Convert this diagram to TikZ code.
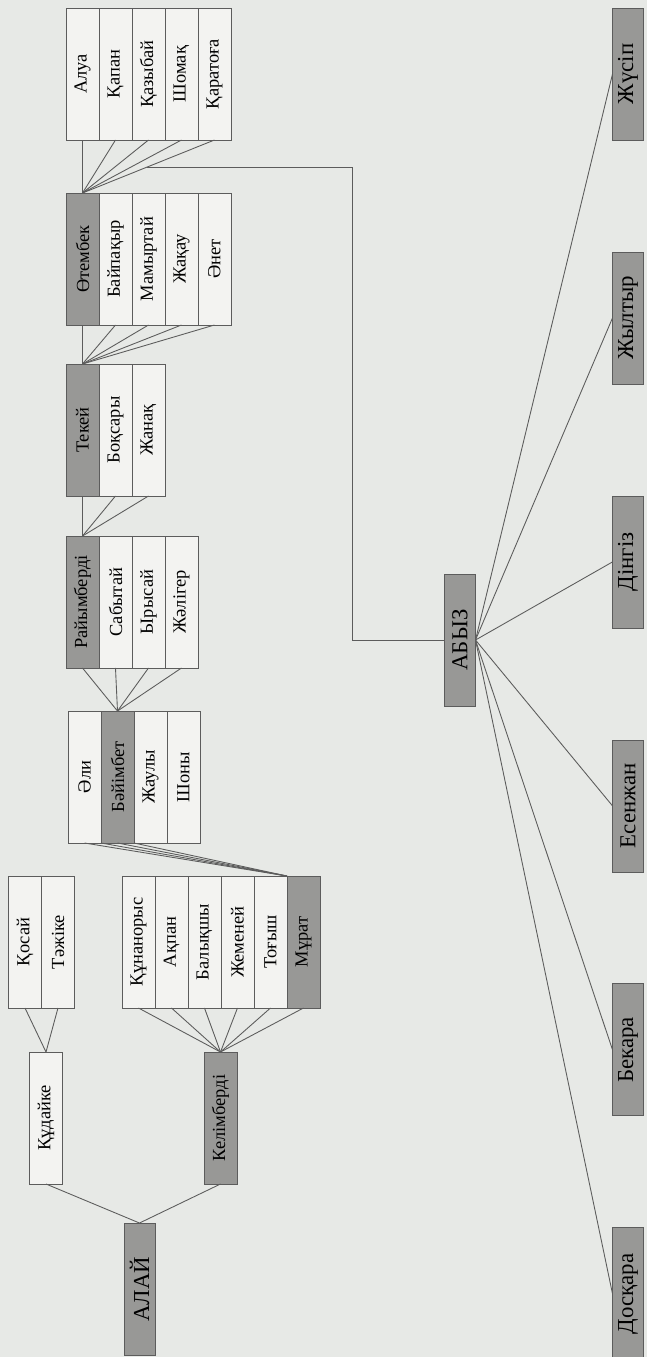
\documentclass[tikz,border=0pt]{standalone}
\usepackage{fontspec}
\setmainfont{Liberation Serif}
\usetikzlibrary{positioning,calc}
\definecolor{paper}{RGB}{231,233,230}
\definecolor{cellfill}{RGB}{243,243,241}
\definecolor{darkfill}{RGB}{152,152,150}
\definecolor{rule}{RGB}{92,92,92}
\tikzset{
	cell/.style={draw=rule, fill=cellfill, minimum width=0.66cm, minimum height=2.64cm,
		inner sep=0pt, outer sep=0pt, font=\fontsize{10.5}{12}\selectfont},
	darkcell/.style={cell, fill=darkfill},
	bigcell/.style={darkcell, minimum width=0.62cm, font=\fontsize{13}{15}\selectfont},
	link/.style={draw=rule, line width=0.5pt}
}
\newcommand{\up}[1]{\rotatebox{90}{#1}}

\begin{document}
\begin{tikzpicture}[x=0.02cm,y=-0.02cm,node distance=0pt]
	\fill[paper] (0,0) rectangle (647,1357);
	\useasboundingbox (0,0) rectangle (647,1357);
	% Otembek's sons
	\node[cell] (alu) at (82.5,74) {\up{Алуа}};
	\node[cell] (qap) [right=of alu] {\up{Қапан}};
	\node[cell] (qaz) [right=of qap] {\up{Қазыбай}};
	\node[cell] (sho) [right=of qaz] {\up{Шомақ}};
	\node[cell] (qar) [right=of sho] {\up{Қаратоға}};
	% Tekei's sons
	\node[darkcell] (ote) at (82.5,259) {\up{Өтембек}};
	\node[cell] (bay) [right=of ote] {\up{Байпақыр}};
	\node[cell] (mam) [right=of bay] {\up{Мамыртай}};
	\node[cell] (zha) [right=of mam] {\up{Жақау}};
	\node[cell] (ane) [right=of zha] {\up{Әнет}};
	% Raiymberdi's sons
	\node[darkcell] (tek) at (82.5,430) {\up{Текей}};
	\node[cell] (boq) [right=of tek] {\up{Боқсары}};
	\node[cell] (zhn) [right=of boq] {\up{Жанақ}};
	% Baiymbet's sons
	\node[darkcell] (rai) at (82.5,602) {\up{Райымберді}};
	\node[cell] (sab) [right=of rai] {\up{Сабытай}};
	\node[cell] (yry) [right=of sab] {\up{Ырысай}};
	\node[cell] (zhl) [right=of yry] {\up{Жәлігер}};
	% Murat's sons
	\node[cell] (ali) at (84.5,777) {\up{Әли}};
	\node[darkcell] (bai) [right=of ali] {\up{Бәйімбет}};
	\node[cell] (zhau) [right=of bai] {\up{Жаулы}};
	\node[cell] (shon) [right=of zhau] {\up{Шоны}};
	% Kelimberdi's sons
	\node[cell] (qun) at (138.5,942) {\up{Құнанорыс}};
	\node[cell] (aqp) [right=of qun] {\up{Ақпан}};
	\node[cell] (bal) [right=of aqp] {\up{Балықшы}};
	\node[cell] (zhe) [right=of bal] {\up{Жеменей}};
	\node[cell] (tog) [right=of zhe] {\up{Тоғыш}};
	\node[darkcell] (mur) [right=of tog] {\up{Мұрат}};
	% Qudaike's sons
	\node[cell] (qos) at (25,942) {\up{Қосай}};
	\node[cell] (taz) [right=of qos] {\up{Тәжіке}};
	% Alai
	\node[cell] (qud) at (46,1118) {\up{Құдайке}};
	\node[darkcell] (kel) at (220.5,1118) {\up{Келімберді}};
	\node[bigcell] (alai) at (139.5,1289) {\up{АЛАЙ}};
	% Abyz and his sons
	\node[bigcell] (abyz) at (460,640) {\up{АБЫЗ}};
	\node[bigcell] (zhus) at (628,74) {\up{Жүсіп}};
	\node[bigcell] (zhyl) [below=2.24cm of zhus] {\up{Жылтыр}};
	\node[bigcell] (din) [below=2.24cm of zhyl] {\up{Дінгіз}};
	\node[bigcell] (ese) [below=2.24cm of din] {\up{Есенжан}};
	\node[bigcell] (bek) [below=2.24cm of ese] {\up{Бекара}};
	\node[bigcell] (dos) [below=2.24cm of bek] {\up{Досқара}};

	\path[link]
	(ote.north) edge (alu.south) edge (qap.south) edge (qaz.south)
		edge (sho.south) edge (qar.south)
	(tek.north) edge (ote.south) edge (bay.south) edge (mam.south)
		edge (zha.south) edge (ane.south)
	(rai.north) edge (tek.south) edge (boq.south) edge (zhn.south)
	(bai.north) edge (rai.south) edge (sab.south) edge (yry.south) edge (zhl.south)
	(mur.north west) edge (ali.south) edge (bai.south west) edge (bai.south)
		edge (bai.south east)
	(kel.north) edge (qun.south) edge (aqp.south) edge (bal.south)
		edge (zhe.south) edge (tog.south) edge (mur.south)
	(qud.north) edge (qos.south) edge (taz.south)
	(alai.north) edge (qud.south) edge (kel.south)
	(abyz.east) edge (zhus.west) edge (zhyl.west) edge (din.west)
		edge (ese.west) edge (bek.west) edge (dos.west);

	\coordinate (br) at ($(ote.north)!0.49!(qar.south)$);
	\coordinate (bend) at (352,640);
	\draw[link] (br) -| (bend) -- (abyz.west);
\end{tikzpicture}
\end{document}
